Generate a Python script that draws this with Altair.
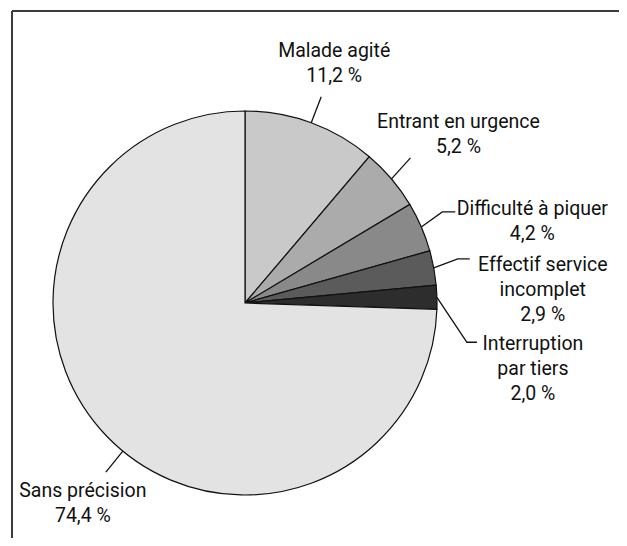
import math
import altair as alt
import pandas as pd

# ---- data ----
categories = ["Malade agité", "Entrant en urgence", "Difficulté à piquer",
              "Effectif service incomplet", "Interruption par tiers", "Sans précision"]
values = [11.2, 5.2, 4.2, 2.9, 2.0, 74.4]
label_texts = ["Malade agité\n11,2 %", "Entrant en urgence\n5,2 %",
               "Difficulté à piquer\n4,2 %", "Effectif service\nincomplet\n2,9 %",
               "Interruption\npar tiers\n2,0 %", "Sans précision\n74,4 %"]
colors = ["#c9c9c9", "#ababab", "#898989", "#5b5b5b", "#2d2d2d", "#e3e3e3"]

# ---- layout (pixels) ----
W, H = 611, 530
CX, CY = 237, 295          # pie centre inside the chart
R = 192
FONT = "Roboto, sans-serif"
anchor_frac = [0.5, 0.5, 0.5, 0.5, 0.5, 0.476]
# leader: (dx, dy) from rim point, then horizontal tail length (signed)
leader = [(10, -26, 0), (19, -21, 0), (21, -15, 13), (24, -9, 12), (30, 45, 10), (-17, 21, 0)]
# text anchor (centre x, first baseline) relative to leader end
text_off = [(13, -40), (48, -30), (77, 3), (73, 12), (56, 8), (-23, 25)]

total = sum(values)
pie_df = pd.DataFrame({"cat": categories, "value": values, "idx": list(range(len(values)))})

line_rows, text_rows = [], []
cum = 0.0
for i, v in enumerate(values):
    a = 2 * math.pi * (cum + anchor_frac[i] * v) / total
    cum += v
    rx, ry = R * math.sin(a), -R * math.cos(a)
    ex, ey = rx + leader[i][0], ry + leader[i][1]
    tx, ty = ex + leader[i][2], ey
    for s, (px, py) in enumerate([(rx, ry), (ex, ey), (tx, ty)]):
        line_rows.append({"cat": categories[i], "s": s, "x": px, "y": py})
    text_rows.append({"cat": categories[i], "label": label_texts[i],
                      "x": tx + text_off[i][0], "y": ty + text_off[i][1]})

lines_df = pd.DataFrame(line_rows)
text_df = pd.DataFrame(text_rows)

xs = alt.Scale(domain=[-CX, W - CX], nice=False, zero=False)
ys = alt.Scale(domain=[-CY, H - CY], nice=False, zero=False, reverse=True)

pie = alt.Chart(pie_df).mark_arc(outerRadius=R, stroke="#111111", strokeWidth=1.2,
                                 x=CX, y=CY).encode(
    theta=alt.Theta("value:Q", stack=True),
    order=alt.Order("idx:Q"),
    color=alt.Color("cat:N", scale=alt.Scale(domain=categories, range=colors), legend=None),
)

leaders = alt.Chart(lines_df).mark_line(color="#111111", strokeWidth=1.3).encode(
    x=alt.X("x:Q", scale=xs, axis=None),
    y=alt.Y("y:Q", scale=ys, axis=None),
    detail="cat:N",
    order="s:Q",
)

labels = alt.Chart(text_df).mark_text(
    font=FONT, fontSize=19.5, color="#111111", align="center",
    baseline="alphabetic", lineBreak="\n", lineHeight=25,
).encode(
    x=alt.X("x:Q", scale=xs, axis=None),
    y=alt.Y("y:Q", scale=ys, axis=None),
    text="label:N",
)

frame_top = alt.Chart(pie_df).mark_rule(color="#3c3c3c", strokeWidth=2).encode(
    x=alt.value(4), x2=alt.value(W), y=alt.value(3))
frame_left = alt.Chart(pie_df).mark_rule(color="#3c3c3c", strokeWidth=2).encode(
    x=alt.value(4), y=alt.value(3), y2=alt.value(H))

chart = alt.layer(pie, leaders, labels, frame_top, frame_left).properties(
    width=W, height=H, autosize=alt.AutoSizeParams(type="none"), padding=0,
).configure_view(stroke=None).resolve_scale(x="shared", y="shared")

chart.save("out.html", embed_options={"renderer": "svg", "actions": False})
